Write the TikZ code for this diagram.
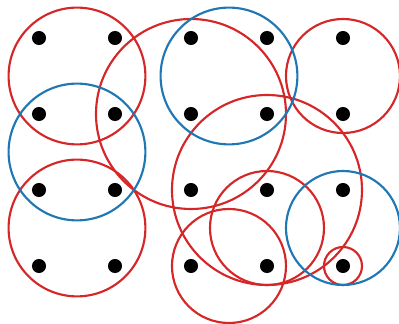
\documentclass[tikz,border=0pt]{standalone}
\usepackage{xcolor}
\usepackage{tikz}
\definecolor{ringred}{HTML}{D62728}
\definecolor{ringblue}{HTML}{1F77B4}

\begin{document}
\begin{tikzpicture}[x=1cm,y=-1cm,
  dot/.style={circle,fill=black,inner sep=0pt,minimum size=.185cm},
  redring/.style={ringred,line width=.8pt},
  bluering/.style={ringblue,line width=.8pt}]
\useasboundingbox (-.513,-.5) rectangle (4.737,3.763);
\foreach \i in {0,...,4}{\foreach \j in {0,...,3}{\node[dot] (p\i\j) at (\i,\j){};}}
\foreach \c/\r in {{(.5,.5)}/.9,{(.5,2.5)}/.9,{(2,1)}/1.25,{(4,.5)}/.75,{(3,2)}/1.25,{(3,2.5)}/.75,{(2.5,3)}/.75,{(4,3)}/.25}{\draw[redring] \c circle (\r);}
\foreach \c/\r in {{(.5,1.5)}/.9,{(2.5,.5)}/.9,{(4,2.5)}/.75}{\draw[bluering] \c circle (\r);}
\end{tikzpicture}
\end{document}
